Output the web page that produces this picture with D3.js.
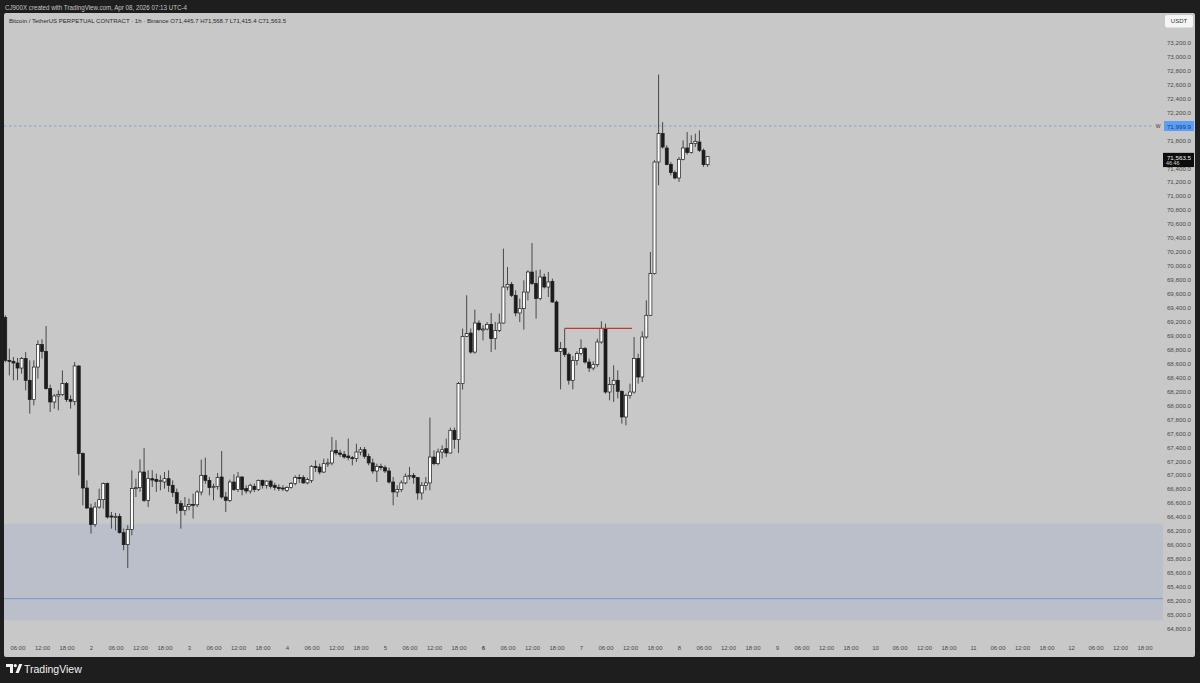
<!DOCTYPE html>
<html>
<head>
<meta charset="utf-8">
<script src="https://d3js.org/d3.v7.min.js"></script>
<style>
  html, body { margin: 0; padding: 0; background: #1e1e1e; }
  svg { display: block; }
  text { font-family: "Liberation Sans", Arial, sans-serif; }
</style>
</head>
<body>
<div id="chart"></div>
<script>
// BTCUSDT.P 1h, first visible bar Apr 01 03:00 (one bar per hour)
var firstBar = new Date(Date.UTC(2026, 3, 1, 3));

var opens = [
  // Apr 1, 03:00 - 23:00
  69258, 68641, 68627, 68603, 68531, 68666, 68355, 68078, 68545, 68867, 68770, 68236, 68044, 68130, 68150, 68307, 68078, 68054, 68560, 67304, 66811,
  // Apr 2
  66524, 66286, 66538, 66644, 66874, 66410, 66395, 66405, 66171, 65999, 66218, 66802, 66816, 67040, 66634, 66945, 66935, 66907, 66897, 66945, 66850, 66745, 66587, 66491,
  // Apr 3
  66550, 66577, 66570, 66754, 66993, 66921, 66817, 66835, 66969, 66682, 66634, 66897, 66788, 66969, 66802, 66768, 66835, 66788, 66921, 66850, 66910, 66850, 66817, 66811,
  // Apr 4
  66778, 66817, 66874, 66960, 66960, 66884, 66921, 67122, 67112, 67040, 67160, 67170, 67351, 67313, 67294, 67270, 67246, 67232, 67327, 67360, 67265, 67170, 67055, 67122,
  // Apr 5
  67103, 67055, 66897, 66754, 66788, 66884, 66980, 66993, 66960, 66740, 66850, 66884, 67255, 67160, 67327, 67375, 67313, 67638, 67505, 68307, 68985, 69033, 68760, 69176,
  // Apr 6
  69081, 69090, 69157, 68952, 69071, 69176, 69692, 69731, 69573, 69320, 69382, 69620, 69907, 69741, 69526, 69836, 69692, 69774, 69477, 68770, 68809, 68723, 68355, 68641,
  // Apr 7
  68737, 68809, 68617, 68531, 68579, 68904, 69096, 68187, 68293, 68355, 68197, 67829, 68140, 68187, 68666, 68402, 68976, 69287, 69884, 71484, 71891, 71685, 71447, 71332,
  // Apr 8, 00:00 - 07:00
  71255, 71523, 71685, 71619, 71748, 71771, 71652, 71445.7
];
var highs = [
  69287, 68809, 68689, 68675, 68689, 68760, 68641, 68641, 68928, 68943, 69133, 68293, 68158, 68211, 68498, 68330, 68140, 68617, 68570, 67320, 66921,
  66587, 66610, 66802, 66890, 66890, 66467, 66453, 66443, 66229, 66278, 67065, 66945, 67222, 67384, 67065, 67065, 67017, 66993, 67040, 67065, 66921, 66802, 66634, 66682,
  66658, 66730, 66778, 67218, 67246, 66969, 66874, 67026, 67341, 66754, 66931, 67007, 67040, 66980, 66850, 66874, 66874, 66931, 66931, 66921, 66931, 66884, 66864, 66850,
  66835, 66897, 66993, 67007, 66993, 66960, 67138, 67208, 67160, 67232, 67232, 67542, 67495, 67360, 67341, 67519, 67270, 67447, 67399, 67399, 67304, 67232, 67160, 67160,
  67136, 67103, 66969, 66850, 66921, 67020, 67112, 67026, 66969, 66897, 66969, 67820, 67351, 67375, 67423, 67519, 67676, 67676, 68330, 69096, 69573, 69096, 69368, 69215,
  69143, 69190, 69320, 69190, 69311, 70243, 69979, 69764, 69645, 69526, 69788, 69932, 70323, 69932, 69942, 69884, 69907, 69812, 69501, 68904, 69096, 68752, 68703, 68770,
  68943, 68833, 68666, 68627, 68952, 69201, 69167, 68402, 68570, 68498, 68211, 68164, 68307, 68976, 68737, 69057, 69501, 70194, 71508, 72737, 72057, 71724, 71484, 71365,
  71556, 71795, 71914, 71867, 71891, 71938, 71676, 71568.7
];
var lows = [
  68612, 68426, 68355, 68355, 68451, 68211, 67877, 67996, 68379, 68666, 68220, 67900, 67949, 67925, 68130, 68044, 67949, 67996, 66993, 66563, 66515,
  66157, 66252, 66515, 66515, 66372, 66229, 66204, 66157, 65918, 65664, 66133, 66682, 66755, 66610, 66538, 66826, 66755, 66778, 66802, 66755, 66682, 66444, 66229, 66420,
  66491, 66372, 66538, 66706, 66874, 66706, 66634, 66788, 66658, 66467, 66610, 66768, 66754, 66706, 66730, 66730, 66754, 66768, 66802, 66802, 66802, 66778, 66768, 66768,
  66754, 66802, 66850, 66884, 66874, 66864, 66884, 67040, 67007, 67026, 67112, 67136, 67280, 67256, 67232, 67208, 67136, 67184, 67280, 67232, 67136, 67017, 66897, 67065,
  67026, 66874, 66563, 66682, 66754, 66864, 66931, 66874, 66644, 66644, 66778, 66778, 67136, 67136, 67232, 67255, 67304, 67375, 67313, 68221, 68975, 68737, 68737, 69062,
  68928, 69071, 68760, 68795, 69047, 69167, 69645, 69549, 69272, 69190, 69081, 69501, 69720, 69239, 69501, 69670, 69549, 69467, 68760, 68226, 68689, 68293, 68226, 68570,
  68713, 68594, 68474, 68498, 68545, 68880, 68164, 68068, 68044, 68096, 67734, 67710, 68092, 68164, 68307, 68330, 68952, 69277, 69870, 71150, 71676, 71437, 71293, 71236,
  71198, 71508, 71590, 71604, 71699, 71628, 71415, 71415.4
];
var closes = [
  68641, 68627, 68603, 68531, 68666, 68355, 68078, 68545, 68867, 68770, 68236, 68044, 68130, 68150, 68307, 68078, 68054, 68560, 67304, 66811, 66524,
  66286, 66538, 66644, 66874, 66395, 66395, 66405, 66171, 65999, 66218, 66802, 66816, 67040, 66634, 66945, 66925, 66907, 66920, 66945, 66850, 66745, 66587, 66491, 66550,
  66577, 66570, 66754, 66993, 66921, 66817, 66835, 66960, 66682, 66634, 66897, 66788, 66969, 66788, 66768, 66850, 66788, 66921, 66850, 66910, 66835, 66817, 66811, 66802,
  66817, 66874, 66960, 66945, 66884, 66931, 67122, 67103, 67040, 67160, 67170, 67341, 67313, 67294, 67256, 67246, 67232, 67327, 67360, 67265, 67170, 67055, 67122, 67103,
  67055, 66897, 66754, 66788, 66884, 66980, 66993, 66960, 66740, 66850, 66884, 67255, 67160, 67327, 67360, 67313, 67638, 67505, 68307, 68985, 69024, 68760, 69176, 69081,
  69090, 69157, 68952, 69071, 69176, 69692, 69731, 69573, 69320, 69382, 69620, 69907, 69741, 69526, 69836, 69692, 69764, 69477, 68770, 68809, 68723, 68355, 68641, 68737,
  68809, 68617, 68531, 68579, 68904, 69096, 68187, 68293, 68355, 68197, 67829, 68140, 68187, 68666, 68402, 68976, 69287, 69884, 71484, 71891, 71699, 71447, 71332, 71255,
  71523, 71685, 71619, 71748, 71781, 71652, 71446, 71563.5
];

// price scale labels (72,000 and 71,600 sit under the level / last price tags)
var priceTicks = [64800, 65000, 65200, 65400, 65600, 65800, 66000, 66200, 66400, 66600, 66800,
  67000, 67200, 67400, 67600, 67800, 68000, 68200, 68400, 68600, 68800, 69000, 69200, 69400,
  69600, 69800, 70000, 70200, 70400, 70600, 70800, 71000, 71200, 71400, 71800,
  72200, 72400, 72600, 72800, 73000, 73200];

// drawings on the chart
var demandZone = [66300, 64915];          // shaded box, top and bottom price
var zoneLine = 65225;                      // blue line inside the box
var alertLevel = 71999.9;                  // dashed blue level, "W"
var redLevel = {price: 69100, from: new Date(Date.UTC(2026, 3, 6, 20)), to: new Date(Date.UTC(2026, 3, 7, 12, 30))};
var lastPrice = 71563.5, countdown = "46:46";

function whenDocumentLoaded(action) {
  if (document.readyState === "loading") {
    document.addEventListener("DOMContentLoaded", action);
  } else {
    action();
  }
}

function drawChart(el) {
  var W = 1200, H = 683;
  var plot = {left: 4, right: 1163, top: 13, bottom: 638};

  var bars = opens.map(function(o, i) {
    return {time: d3.utcHour.offset(firstBar, i), open: o, high: highs[i], low: lows[i], close: closes[i]};
  });

  var x = d3.scaleUtc()
    .domain([new Date(Date.UTC(2026, 3, 1)), new Date(Date.UTC(2026, 3, 13))])
    .range([-7, 1169]);
  var y = d3.scaleLinear()
    .domain([64800, 73200])
    .range([628.3, 42.3]);

  var svg = d3.select(el).append("svg")
    .attr("width", W)
    .attr("height", H);

  svg.append("rect").attr("width", W).attr("height", H).attr("fill", "#1e1e1e");

  // header above the panel
  svg.append("text")
    .attr("x", 5).attr("y", 7.5)
    .attr("dominant-baseline", "central")
    .attr("font-size", 6.6)
    .attr("fill", "#c4c4c4")
    .attr("textLength", 182)
    .attr("lengthAdjust", "spacingAndGlyphs")
    .text("CJ900X created with TradingView.com, Apr 08, 2026 07:13 UTC-4");

  // panel
  svg.append("rect")
    .attr("x", 4).attr("y", 13)
    .attr("width", 1191).attr("height", 644)
    .attr("rx", 2)
    .attr("fill", "#c8c8c8");

  svg.append("defs").append("clipPath")
    .attr("id", "clip")
    .append("rect")
    .attr("x", plot.left).attr("y", plot.top)
    .attr("width", plot.right - plot.left)
    .attr("height", plot.bottom - plot.top);

  var g = svg.append("g").attr("clip-path", "url(#clip)");

  // ---------------------------//
  //       DRAWINGS             //
  // ---------------------------//
  g.append("rect")
    .attr("x", plot.left)
    .attr("y", y(demandZone[0]))
    .attr("width", plot.right - plot.left)
    .attr("height", y(demandZone[1]) - y(demandZone[0]))
    .attr("fill", "#bbbfc9");

  g.append("line")
    .attr("x1", plot.left).attr("x2", plot.right)
    .attr("y1", y(zoneLine)).attr("y2", y(zoneLine))
    .attr("stroke", "#6f8fd6")
    .attr("stroke-width", 0.9);

  g.append("line")
    .attr("x1", plot.left).attr("x2", 1152)
    .attr("y1", y(alertLevel)).attr("y2", y(alertLevel))
    .attr("stroke", "#86a6df")
    .attr("stroke-width", 1)
    .attr("stroke-dasharray", "2.5,2.5");

  // ---------------------------//
  //       CANDLES              //
  // ---------------------------//
  var bodyW = 3;
  var candles = g.selectAll("g.candle")
    .data(bars)
    .enter()
    .append("g")
    .attr("class", "candle");

  candles.append("line")
    .attr("x1", function(d) { return x(d.time); })
    .attr("x2", function(d) { return x(d.time); })
    .attr("y1", function(d) { return y(d.high); })
    .attr("y2", function(d) { return y(d.low); })
    .attr("stroke", "#3a3a3a")
    .attr("stroke-width", 0.9);

  candles.append("rect")
    .attr("x", function(d) { return x(d.time) - bodyW / 2; })
    .attr("y", function(d) { return y(Math.max(d.open, d.close)); })
    .attr("width", bodyW)
    .attr("height", function(d) { return Math.max(1, Math.abs(y(d.open) - y(d.close))); })
    .attr("fill", function(d) { return d.close >= d.open ? "#ffffff" : "#1c1c1c"; })
    .attr("stroke", "#1c1c1c")
    .attr("stroke-width", 0.7);

  g.append("line")
    .attr("x1", x(redLevel.from)).attr("x2", x(redLevel.to))
    .attr("y1", y(redLevel.price)).attr("y2", y(redLevel.price))
    .attr("stroke", "#c0392f")
    .attr("stroke-width", 1.2);

  // symbol line
  svg.append("text")
    .attr("x", 9).attr("y", 20.5)
    .attr("dominant-baseline", "central")
    .attr("font-size", 6)
    .attr("fill", "#2a2a2a")
    .attr("textLength", 277)
    .attr("lengthAdjust", "spacingAndGlyphs")
    .text("Bitcoin / TetherUS PERPETUAL CONTRACT \u00b7 1h \u00b7 Binance   O71,445.7   H71,568.7   L71,415.4   C71,563.5");

  // ---------------------------//
  //       AXES                 //
  // ---------------------------//
  var yAxis = d3.axisRight(y)
    .tickValues(priceTicks)
    .tickSize(0)
    .tickPadding(0)
    .tickFormat(d3.format(",.1f"));

  var gY = svg.append("g")
    .attr("transform", "translate(1191,0)")
    .call(yAxis);
  gY.select(".domain").remove();
  gY.selectAll("text")
    .attr("x", 0)
    .attr("dy", "0.35em")
    .attr("text-anchor", "end")
    .attr("font-size", 6.2)
    .attr("font-family", "Liberation Sans, Arial, sans-serif")
    .attr("fill", "#4a4a4a");

  var timeTicks = d3.utcHour.every(6).range(new Date(Date.UTC(2026, 3, 1, 6)), new Date(Date.UTC(2026, 3, 12, 19)));
  var xAxis = d3.axisBottom(x)
    .tickValues(timeTicks)
    .tickSize(0)
    .tickPadding(0)
    .tickFormat(function(d) {
      return d.getUTCHours() === 0 ? d3.utcFormat("%-d")(d) : d3.utcFormat("%H:%M")(d);
    });

  var gX = svg.append("g")
    .attr("transform", "translate(0,648)")
    .call(xAxis);
  gX.select(".domain").remove();
  gX.selectAll("text")
    .attr("y", 0)
    .attr("dy", "0.35em")
    .attr("font-size", 6)
    .attr("font-family", "Liberation Sans, Arial, sans-serif")
    .attr("fill", "#4a4a4a")
    .attr("font-weight", function(d) { return d.getUTCDate() === 6 && d.getUTCHours() === 0 ? "bold" : "normal"; });

  // ---------------------------//
  //       PRICE LABELS         //
  // ---------------------------//
  svg.append("rect")
    .attr("x", 1165).attr("y", 15)
    .attr("width", 28).attr("height", 12.5)
    .attr("rx", 2)
    .attr("fill", "#f5f5f5");
  svg.append("text")
    .attr("x", 1179).attr("y", 21.3)
    .attr("dominant-baseline", "central")
    .attr("text-anchor", "middle")
    .attr("font-size", 6)
    .attr("fill", "#333")
    .text("USDT");

  svg.append("text")
    .attr("x", 1158).attr("y", y(alertLevel))
    .attr("dominant-baseline", "central")
    .attr("text-anchor", "middle")
    .attr("font-size", 5)
    .attr("fill", "#3a3a3a")
    .text("W");

  svg.append("rect")
    .attr("x", 1164).attr("y", y(alertLevel) - 5)
    .attr("width", 30).attr("height", 10)
    .attr("fill", "#5b9ef5");
  svg.append("text")
    .attr("x", 1191).attr("y", y(alertLevel))
    .attr("dominant-baseline", "central")
    .attr("text-anchor", "end")
    .attr("font-size", 6.2)
    .attr("fill", "#163a78")
    .text(d3.format(",.1f")(alertLevel));

  svg.append("rect")
    .attr("x", 1163).attr("y", y(lastPrice) - 3.6)
    .attr("width", 31).attr("height", 14.2)
    .attr("fill", "#0c0c0c");
  svg.append("text")
    .attr("x", 1191).attr("y", y(lastPrice) + 0.6)
    .attr("dominant-baseline", "central")
    .attr("text-anchor", "end")
    .attr("font-size", 6.2)
    .attr("fill", "#f0f0f0")
    .text(d3.format(",.1f")(lastPrice));
  svg.append("text")
    .attr("x", 1166).attr("y", y(lastPrice) + 7)
    .attr("dominant-baseline", "central")
    .attr("font-size", 5.4)
    .attr("fill", "#d8d8d8")
    .text(countdown);

  // ---------------------------//
  //       LOGO                 //
  // ---------------------------//
  var logo = svg.append("g").attr("fill", "#f2f2f2");
  logo.append("path").attr("d", "M6,664 h7 v9 h-3 v-6 h-4 z");
  logo.append("circle").attr("cx", 15.3).attr("cy", 665.6).attr("r", 1.6);
  logo.append("path").attr("d", "M15.5,673 l3.6,-9 h3.2 l-3.6,9 z");
  logo.append("text")
    .attr("x", 24).attr("y", 668.8)
    .attr("dominant-baseline", "central")
    .attr("font-size", 10.5)
    .attr("fill", "#f2f2f2")
    .text("TradingView");
}

whenDocumentLoaded(function() {
  drawChart("#chart");
});
</script>
</body>
</html>
